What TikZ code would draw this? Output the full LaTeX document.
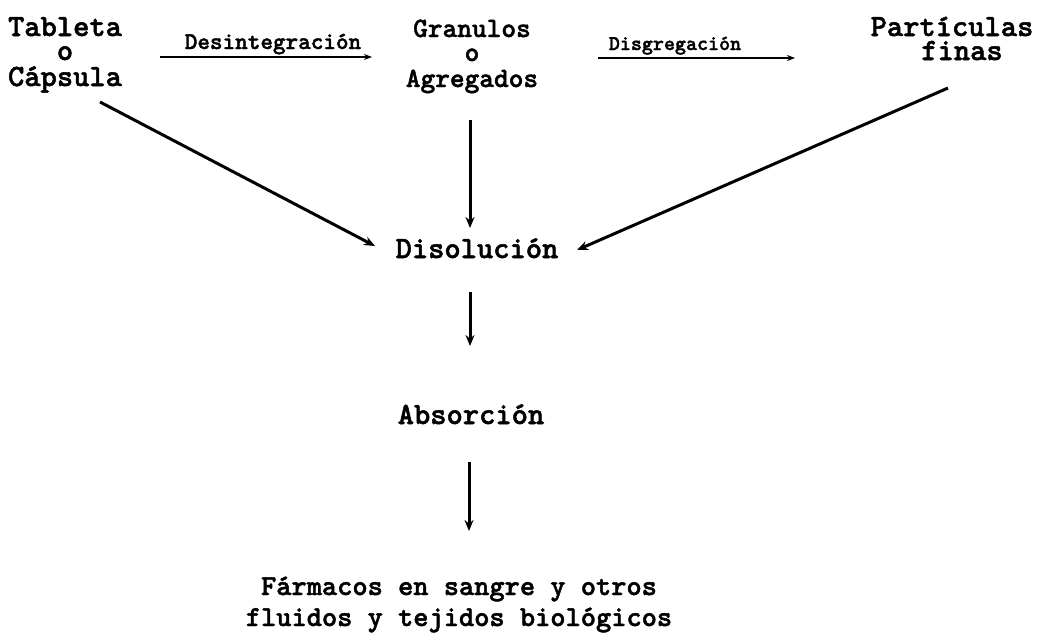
\documentclass[tikz,border=0pt]{standalone}
\usepackage{fontspec}
\newfontfamily\tw[FakeBold=1.6]{lmmonolt10-bold.otf}
\usetikzlibrary{arrows.meta}
\begin{document}
\begin{tikzpicture}[x=1pt,y=-1pt,
  big/.style={font=\tw\fontsize{31}{31}\selectfont, inner sep=0pt, anchor=base},
  mid/.style={font=\tw\fontsize{28}{28}\selectfont, inner sep=0pt, anchor=base},
  bot/.style={font=\tw\fontsize{29}{29}\selectfont, inner sep=0pt, anchor=base},
  lbla/.style={font=\tw\fontsize{24}{24}\selectfont, inner sep=0pt, anchor=base},
  lblb/.style={font=\tw\fontsize{21}{21}\selectfont, inner sep=0pt, anchor=base},
  conn/.style={line width=3pt, -{Stealth[length=11pt,width=9pt]}},
  hconn/.style={line width=2.4pt, -{Stealth[length=8pt,width=6pt]}}]
\useasboundingbox[fill=white] (0,0) rectangle (1054,643);
% blocks
\node[big] (t1) at (65,36) {Tableta};
\node[big] (t2) at (65,60) {o};
\node[big] (t3) at (65,86) {Cápsula};
\node[mid] (g1) at (472,37) {Granulos};
\node[mid] (g2) at (472,61) {o};
\node[mid] (g3) at (472,87) {Agregados};
\node[big] (p1) at (952,36) {Partículas};
\node[big] (p2) at (962,60) {finas};
\node[big] (dis) at (477,258) {Disolución};
\node[big] (abs) at (471,424) {Absorción};
\node[bot] (f1) at (459,595) {Fármacos en sangre y otros};
\node[bot] (f2) at (459,626) {fluidos y tejidos biológicos};
% horizontal arrows
\coordinate (h1s) at (160,57); \coordinate (h1e) at (372,57);
\coordinate (h2s) at (598,58); \coordinate (h2e) at (795,58);
\draw[hconn] (h1s) -- (h1e);
\draw[hconn] (h2s) -- (h2e);
\node[lbla] (l1) at (273,49) {Desintegración};
\node[lblb] (l2) at (675,50) {Disgregación};
% diagonal and vertical arrows
\coordinate (ts) at (100,102); \coordinate (te) at (375,246);
\coordinate (ps) at (948,88); \coordinate (pe) at (577,250);
\draw[conn] (ts) -- (te);
\draw[conn] (ps) -- (pe);
\coordinate (v1s) at (470,120); \coordinate (v1e) at (470,228);
\coordinate (v2s) at (470,292); \coordinate (v2e) at (470,346);
\coordinate (v3s) at (469,462); \coordinate (v3e) at (469,531);
\draw[conn] (v1s) -- (v1e);
\draw[conn] (v2s) -- (v2e);
\draw[conn] (v3s) -- (v3e);
\end{tikzpicture}
\end{document}
